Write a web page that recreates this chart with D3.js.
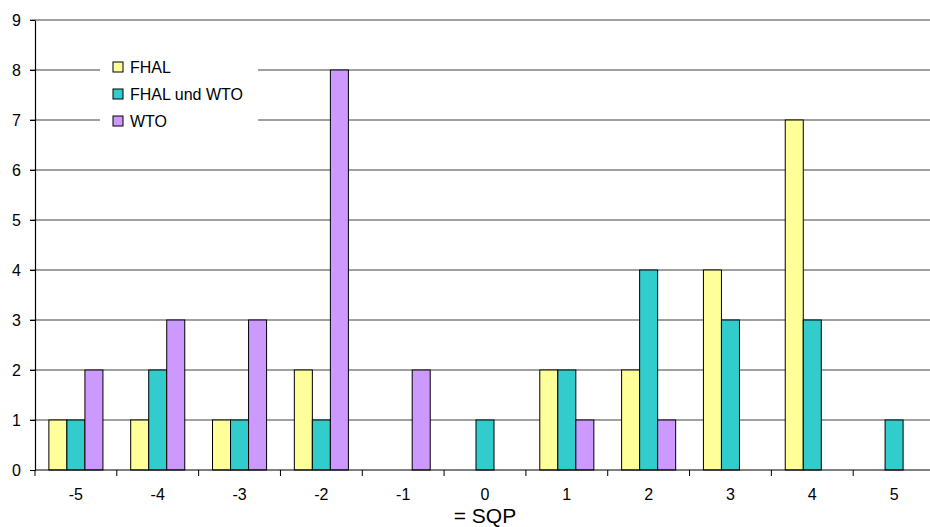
<!DOCTYPE html>
<html>
<head>
<meta charset="utf-8">
<script src="https://cdn.jsdelivr.net/npm/d3@7"></script>
<style>
  html, body { margin: 0; padding: 0; background: #fff; }
  svg { display: block; font-family: "Liberation Sans", Arial, sans-serif; }
</style>
</head>
<body>
<svg id="chart" width="930" height="527"></svg>
<script>
// Categories on the x axis
const categories = ["-5", "-4", "-3", "-2", "-1", "0", "1", "2", "3", "4", "5"];
// Series names
const seriesNames = ["FHAL", "FHAL und WTO", "WTO"];
// Counts per category for each series
const fhal      = [1, 1, 1, 2, 0, 0, 2, 2, 4, 7, 0];
const fhalWto   = [1, 2, 1, 1, 0, 1, 2, 4, 3, 3, 1];
const wto       = [2, 3, 3, 8, 2, 0, 1, 1, 0, 0, 0];
// Y tick values
const yTicks = [0, 1, 2, 3, 4, 5, 6, 7, 8, 9];
const xTitle = "= SQP";

const seriesValues = [fhal, fhalWto, wto];
const colors = ["#FFFF99", "#33CCCC", "#CC99FF"];

const svg = d3.select("#chart");
const plotLeft = 35, plotRight = 935, plotTop = 20, plotBottom = 470;

const x0 = d3.scaleBand().domain(categories).range([plotLeft, plotRight]).padding(0);
const x1 = d3.scaleBand().domain(seriesNames).range([0, x0.bandwidth()])
  .paddingInner(0).paddingOuter(0.77);
const y = d3.scaleLinear().domain([0, 9]).range([plotBottom, plotTop]);

// Horizontal gridlines
svg.append("g")
  .selectAll("line")
  .data(yTicks.filter(d => d > 0))
  .join("line")
  .attr("x1", plotLeft - 5).attr("x2", 930)
  .attr("y1", d => y(d)).attr("y2", d => y(d))
  .attr("stroke", "#808080").attr("stroke-width", 1.5);

// Legend background hides the gridlines behind it
svg.append("rect")
  .attr("x", 100).attr("y", 48).attr("width", 158).attr("height", 92)
  .attr("fill", "#fff");

// Bars
const groups = svg.append("g")
  .selectAll("g")
  .data(categories)
  .join("g")
  .attr("transform", d => `translate(${x0(d)},0)`);

groups.selectAll("rect")
  .data((c, i) => seriesNames.map((s, k) => ({ s, k, v: seriesValues[k][i] })).filter(d => d.v > 0))
  .join("rect")
  .attr("x", d => x1(d.s))
  .attr("width", x1.bandwidth())
  .attr("y", d => y(d.v))
  .attr("height", d => y(0) - y(d.v))
  .attr("fill", d => colors[d.k])
  .attr("stroke", "#000").attr("stroke-width", 1);

// Y axis
const yAxis = d3.axisLeft(y).tickValues(yTicks).tickSize(5).tickSizeOuter(0).tickPadding(9);
const gy = svg.append("g").attr("transform", `translate(${plotLeft},0)`).call(yAxis);
gy.select(".domain").attr("stroke", "#000").attr("stroke-width", 1.2);
gy.selectAll(".tick line").attr("stroke", "#000");
gy.selectAll(".tick text").attr("font-size", 16).attr("fill", "#000")
  .attr("font-family", "Liberation Sans, Arial, sans-serif");

// X axis line
svg.append("line")
  .attr("x1", plotLeft).attr("x2", 930).attr("y1", plotBottom).attr("y2", plotBottom)
  .attr("stroke", "#000").attr("stroke-width", 1.2);

// X tick marks between categories
const boundaries = categories.map(c => x0(c)).concat([x0(categories[categories.length - 1]) + x0.bandwidth()]);
svg.append("g").selectAll("line")
  .data(boundaries.filter(b => b <= 930))
  .join("line")
  .attr("x1", d => d).attr("x2", d => d)
  .attr("y1", plotBottom).attr("y2", plotBottom + 6)
  .attr("stroke", "#000").attr("stroke-width", 1);

// X labels
svg.append("g").selectAll("text")
  .data(categories)
  .join("text")
  .attr("x", d => x0(d) + x0.bandwidth() / 2)
  .attr("y", 500)
  .attr("text-anchor", "middle")
  .attr("font-size", 16)
  .text(d => d);

// Axis title
svg.append("text")
  .attr("x", (plotLeft + plotRight) / 2)
  .attr("y", 523)
  .attr("text-anchor", "middle")
  .attr("font-size", 21)
  .text(xTitle);

// Legend
const legend = svg.append("g").selectAll("g")
  .data(seriesNames)
  .join("g")
  .attr("transform", (d, i) => `translate(113,${62 + i * 27})`);
legend.append("rect")
  .attr("width", 10).attr("height", 10)
  .attr("fill", (d, i) => colors[i])
  .attr("stroke", "#000").attr("stroke-width", 1);
legend.append("text")
  .attr("x", 17).attr("y", 11)
  .attr("font-size", 16)
  .text(d => d);
</script>
</body>
</html>
